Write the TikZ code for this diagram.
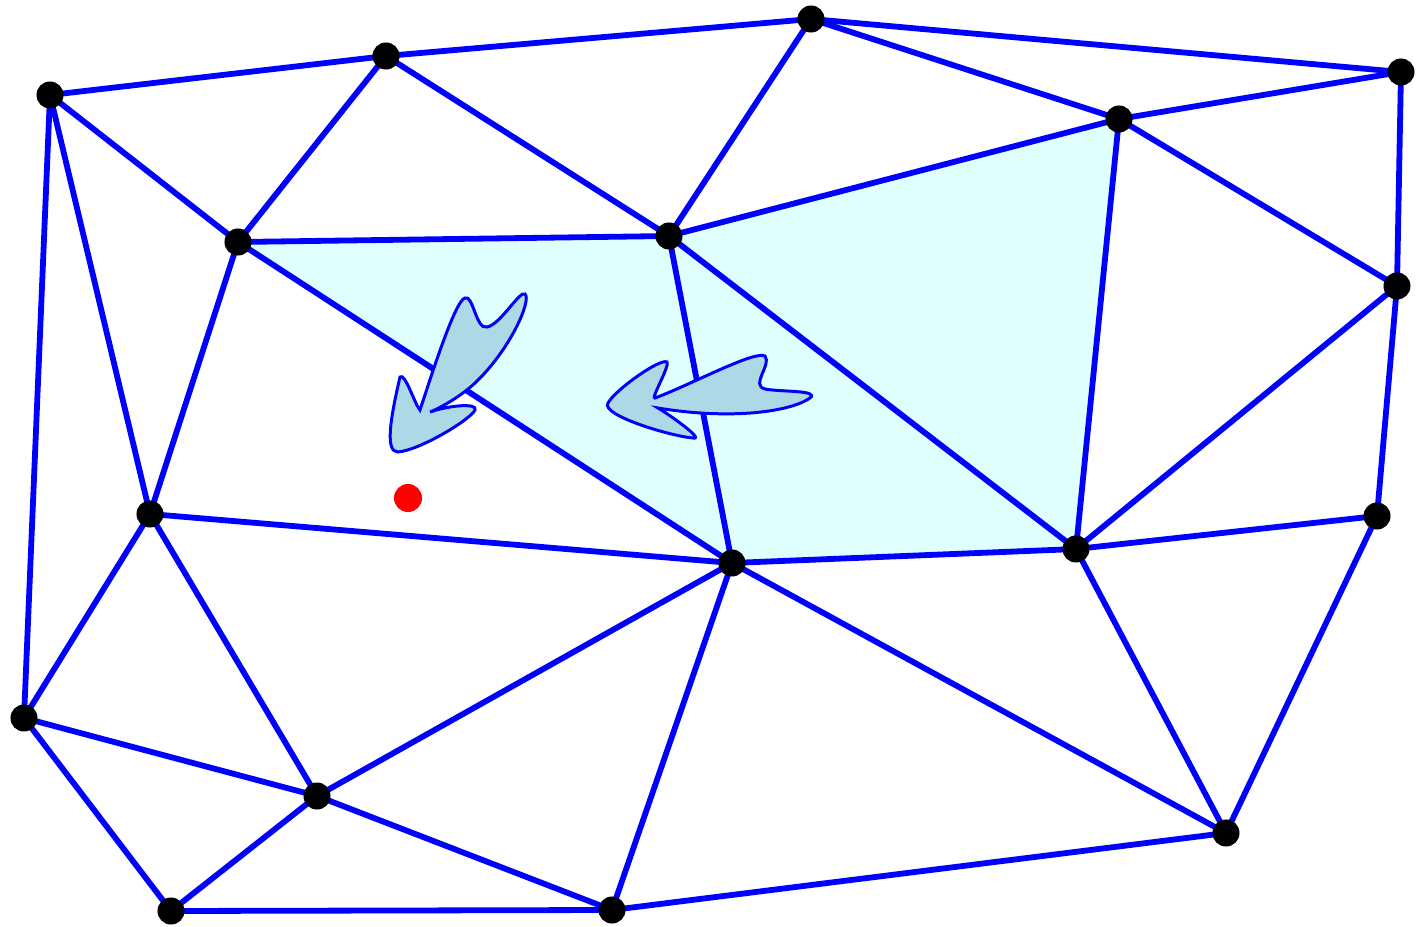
\documentclass[tikz,border=0pt]{standalone}
\begin{document}
\begin{tikzpicture}[x=0.01cm,y=-0.01cm,
  edge/.style={blue, line width=1.65pt},
  vtx/.style={circle, fill=black, inner sep=0pt, minimum size=0.27cm},
  wavy/.style={draw=blue, fill=lightblue, line width=0.85pt},
]
\definecolor{lightblue}{RGB}{173,216,230}
\definecolor{lightcyan}{RGB}{224,255,255}
\useasboundingbox (0,0) rectangle (1423,927);
\coordinate (A) at (50,95);
\coordinate (B) at (386,56);
\coordinate (C) at (811,19);
\coordinate (D) at (1401,72);
\coordinate (E) at (1119,119);
\coordinate (F) at (238,242);
\coordinate (G) at (669,236);
\coordinate (H) at (1397,286);
\coordinate (I) at (150,514);
\coordinate (J) at (732,563);
\coordinate (K) at (1076,549);
\coordinate (L) at (1377,516);
\coordinate (M) at (24,718);
\coordinate (N) at (317,796);
\coordinate (O) at (171,911);
\coordinate (P) at (612,910);
\coordinate (Q) at (1226,833);
\fill[lightcyan] (F) -- (G) -- (E) -- (K) -- (J) -- cycle;
\foreach \a/\b in {A/B,B/C,C/D,A/F,A/I,A/M,B/F,B/G,C/G,C/E,D/E,D/H,E/G,E/K,E/H,F/G,F/J,F/I,G/J,G/K,H/K,H/L,I/J,I/M,I/N,J/K,J/N,J/P,J/Q,K/L,K/Q,L/Q,M/N,M/O,N/O,N/P,O/P,P/Q}
  \draw[edge] (\a) -- (\b);
\foreach \v in {A,B,C,D,E,F,G,H,I,J,K,L,M,N,O,P,Q}
  \node[vtx] (n\v) at (\v) {};
\node[circle, fill=red, inner sep=0pt, minimum size=0.28cm] (red) at (408,498) {};
\draw[wavy] (465,298) .. controls (473,294) and (476,330) .. (487,327)
  .. controls (500,325) and (520,290) .. (525,294)
  .. controls (532,300) and (510,350) .. (475,383)
  .. controls (460,397) and (440,408) .. (430,412)
  .. controls (450,405) and (478,403) .. (475,410)
  .. controls (470,420) and (420,450) .. (398,452)
  .. controls (385,452) and (390,420) .. (400,377)
  .. controls (405,372) and (415,405) .. (420,410)
  .. controls (430,380) and (455,300) .. (465,298) -- cycle;
\draw[wavy] (765,356) .. controls (772,365) and (750,385) .. (765,389)
  .. controls (780,392) and (820,390) .. (810,398)
  .. controls (790,412) and (730,420) .. (658,408)
  .. controls (670,415) and (705,440) .. (693,438)
  .. controls (670,436) and (600,415) .. (608,403)
  .. controls (615,390) and (660,358) .. (667,362)
  .. controls (670,366) and (650,400) .. (655,398)
  .. controls (690,385) and (755,350) .. (765,356) -- cycle;
\end{tikzpicture}
\end{document}
